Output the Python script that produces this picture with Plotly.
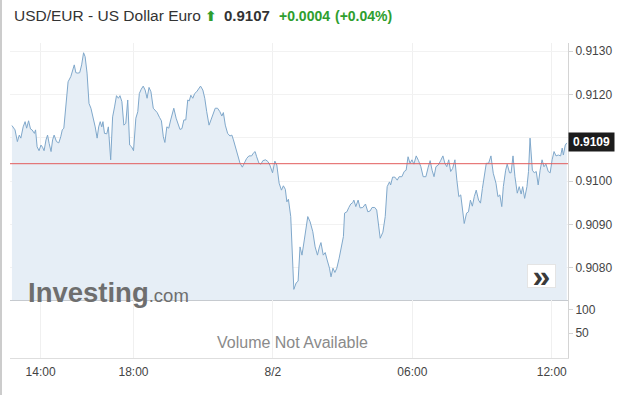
import pandas as pd
import plotly.graph_objects as go
from plotly.subplots import make_subplots

# ---------------- data ----------------
start_time = "2019-08-01 12:46"
minutes_from_start = [
    0, 8, 14, 19, 23, 29, 34, 38, 43, 48,
    52, 58, 61, 65, 70, 75, 79, 83, 88, 92,
    96, 101, 105, 109, 115, 121, 126, 130, 134, 139,
    145, 152, 157, 161, 165, 170, 175, 180, 185, 189,
    194, 199, 204, 210, 215, 220, 224, 228, 232, 235,
    239, 245, 249, 255, 260, 265, 270, 275, 279, 284,
    289, 294, 299, 304, 309, 314, 320, 325, 329, 334,
    339, 344, 349, 354, 359, 365, 370, 375, 381, 386,
    391, 395, 400, 405, 410, 414, 418, 424, 429, 434,
    439, 444, 449, 454, 458, 462, 467, 472, 477, 482,
    487, 493, 498, 503, 509, 514, 520, 525, 531, 537,
    542, 546, 551, 557, 563, 568, 572, 577, 582, 589,
    595, 600, 606, 612, 619, 623, 628, 632, 638, 643,
    648, 655, 661, 666, 673, 679, 684, 690, 696, 701,
    706, 710, 714, 720, 724, 728, 734, 739, 744, 749,
    755, 764, 770, 777, 783, 789, 794, 798, 804, 809,
    814, 820, 824, 829, 834, 839, 845, 851, 856, 859,
    865, 870, 875, 880, 883, 888, 894, 899, 906, 913,
    919, 925, 930, 937, 942, 951, 958, 964, 969, 975,
    978, 983, 989, 995, 1000, 1007, 1013, 1018, 1023, 1028,
    1033, 1038, 1044, 1050, 1056, 1062, 1069, 1075, 1080, 1085,
    1090, 1095, 1101, 1107, 1113, 1118, 1123, 1128, 1133, 1138,
    1144, 1149, 1154, 1159, 1164, 1168, 1174, 1179, 1184, 1189,
    1194, 1199, 1205, 1210, 1215, 1220, 1225, 1231, 1237, 1243,
    1250, 1255, 1260, 1265, 1269, 1275, 1279, 1285, 1289, 1294,
    1299, 1305, 1310, 1315, 1319, 1324, 1330, 1334, 1338, 1344,
    1349, 1354, 1359, 1364, 1369, 1374, 1379, 1385, 1390, 1395,
    1400, 1405, 1411, 1417, 1421, 1424, 1429, 1433,
]
prices = [
    0.91128, 0.91118, 0.91091, 0.91106, 0.91099, 0.91125, 0.91137, 0.91122, 0.91139, 0.91120,
    0.91118, 0.91110, 0.91118, 0.91079, 0.91070, 0.91083, 0.91078, 0.91070, 0.91095, 0.91106,
    0.91087, 0.91068, 0.91095, 0.91106, 0.91091, 0.91088, 0.91102, 0.91118, 0.91122, 0.91171,
    0.91229, 0.91241, 0.91256, 0.91268, 0.91250, 0.91249, 0.91250, 0.91268, 0.91296, 0.91287,
    0.91249, 0.91179, 0.91168, 0.91147, 0.91125, 0.91099, 0.91125, 0.91137, 0.91125, 0.91137,
    0.91110, 0.91109, 0.91125, 0.91049, 0.91148, 0.91171, 0.91197, 0.91191, 0.91197, 0.91183,
    0.91129, 0.91133, 0.91187, 0.91083, 0.91079, 0.91070, 0.91145, 0.91160, 0.91202, 0.91212,
    0.91219, 0.91210, 0.91191, 0.91216, 0.91206, 0.91168, 0.91162, 0.91158, 0.91147, 0.91139,
    0.91102, 0.91089, 0.91125, 0.91122, 0.91141, 0.91152, 0.91168, 0.91145, 0.91133, 0.91119,
    0.91121, 0.91141, 0.91141, 0.91187, 0.91185, 0.91198, 0.91191, 0.91202, 0.91206, 0.91214,
    0.91219, 0.91210, 0.91191, 0.91160, 0.91129, 0.91141, 0.91158, 0.91168, 0.91168, 0.91160,
    0.91150, 0.91158, 0.91129, 0.91110, 0.91104, 0.91106, 0.91095, 0.91079, 0.91064, 0.91041,
    0.91032, 0.91041, 0.91052, 0.91058, 0.91058, 0.91064, 0.91068, 0.91056, 0.91041, 0.91039,
    0.91047, 0.91049, 0.91045, 0.91037, 0.91019, 0.91046, 0.91037, 0.90995, 0.90979, 0.90989,
    0.90981, 0.90952, 0.90958, 0.90918, 0.90841, 0.90750, 0.90765, 0.90769, 0.90848, 0.90829,
    0.90864, 0.90918, 0.90906, 0.90883, 0.90848, 0.90829, 0.90848, 0.90858, 0.90829, 0.90835,
    0.90818, 0.90799, 0.90779, 0.90799, 0.90789, 0.90799, 0.90822, 0.90848, 0.90872, 0.90926,
    0.90929, 0.90939, 0.90947, 0.90950, 0.90956, 0.90941, 0.90956, 0.90938, 0.90939, 0.90947,
    0.90929, 0.90931, 0.90939, 0.90939, 0.90933, 0.90868, 0.90882, 0.90918, 0.90987, 0.90998,
    0.90991, 0.91009, 0.91009, 0.91002, 0.91010, 0.91010, 0.91022, 0.91025, 0.91056, 0.91041,
    0.91049, 0.91039, 0.91058, 0.91047, 0.91033, 0.91010, 0.91010, 0.91032, 0.91047, 0.91025,
    0.91010, 0.91033, 0.91037, 0.91047, 0.91058, 0.91041, 0.91033, 0.91049, 0.91022, 0.91029,
    0.91049, 0.91002, 0.90964, 0.90968, 0.90929, 0.90902, 0.90926, 0.90929, 0.90956, 0.90942,
    0.90964, 0.90979, 0.90956, 0.90949, 0.90983, 0.91010, 0.91041, 0.91041, 0.91058, 0.91018,
    0.90995, 0.90964, 0.90968, 0.90941, 0.90987, 0.91025, 0.91039, 0.91019, 0.91019, 0.91058,
    0.91010, 0.90972, 0.90987, 0.90970, 0.90987, 0.90960, 0.90987, 0.91022, 0.91099, 0.91025,
    0.91019, 0.91022, 0.90991, 0.91025, 0.91049, 0.91033, 0.91039, 0.91022, 0.91019, 0.91049,
    0.91068, 0.91058, 0.91060, 0.91058, 0.91076, 0.91060, 0.91083, 0.91088,
]
prev_close = 0.91040
last_price_label = "0.9109"
x_tick_times = ["2019-08-01 14:00", "2019-08-01 18:00", "2019-08-02 00:00",
                "2019-08-02 06:00", "2019-08-02 12:00"]
x_tick_labels = ["14:00", "18:00", "8/2", "06:00", "12:00"]
price_ticks = [0.9080, 0.9090, 0.9100, 0.9110, 0.9120, 0.9130]
price_tick_labels = ["0.9080", "0.9090", "0.9100", "", "0.9120", "0.9130"]
volume_ticks = [50, 100]
title_text = "USD/EUR - US Dollar Euro"
quote_text = "0.9107"
change_text = "+0.0004"
change_pct_text = "(+0.04%)"

times = pd.Timestamp(start_time) + pd.to_timedelta(minutes_from_start, unit="min")

# ---------------- figure ----------------
W, H = 622, 395
ML, MR, MT, MB = 10, 54, 43, 37
PW, PH = W - ML - MR, H - MT - MB

fig = make_subplots(rows=2, cols=1, shared_xaxes=True, vertical_spacing=0,
                    row_heights=[257, 58])

fig.add_trace(go.Scatter(
    x=times, y=prices, mode="lines",
    line=dict(color="#80a8cb", width=1),
    fill="tozeroy", fillcolor="#e6eef6",
    hoverinfo="skip", showlegend=False), row=1, col=1)
fig.add_trace(go.Scatter(x=[times[0]], y=[None], mode="lines",
                         showlegend=False, hoverinfo="skip"), row=2, col=1)

FONT = "Liberation Sans, Arial, sans-serif"
axis_tick_font = dict(family=FONT, size=12, color="#444")
xrange = ["2019-08-01 12:41", "2019-08-02 12:42"]

fig.update_xaxes(range=xrange, tickvals=x_tick_times, ticktext=x_tick_labels,
                 showgrid=True, gridcolor="#f0f0f0", gridwidth=1,
                 zeroline=False, ticks="", tickfont=axis_tick_font)
fig.update_xaxes(showline=True, linecolor="#c6cacf", linewidth=1, row=1, col=1)
fig.update_xaxes(showline=True, linecolor="#dedede", linewidth=1,
                 ticklabelstandoff=3, row=2, col=1)

fig.update_yaxes(side="right", range=[0.907255, 0.913185],
                 tickvals=price_ticks, ticktext=price_tick_labels,
                 showgrid=True, gridcolor="#f2f2f2", zeroline=False,
                 showline=True, linecolor="#d4d4d4", ticks="outside",
                 ticklen=4, tickcolor="#d4d4d4", tickfont=axis_tick_font,
                 row=1, col=1)
fig.update_yaxes(side="right", range=[-4.3, 121.7], tickvals=volume_ticks,
                 showgrid=False, zeroline=False, showline=True,
                 linecolor="#d4d4d4", ticks="outside", ticklen=4,
                 tickcolor="#d4d4d4", tickfont=axis_tick_font, row=2, col=1)

shapes = [
    dict(type="line", xref="x domain", x0=0, x1=1, yref="y",
         y0=prev_close, y1=prev_close, line=dict(color="#e25c5c", width=1)),
    dict(type="line", xref="paper", x0=(1 - ML) / PW, x1=(1 - ML) / PW,
         yref="paper", y0=-MB / PH, y1=1 + MT / PH,
         line=dict(color="#cccccc", width=2)),
]

def px_x(x):
    return (x - ML) / PW

def px_y(y):
    return (H - MB - y) / PH

annotations = [
    dict(text=title_text, xref="paper", yref="paper", x=px_x(12), y=px_y(15),
         xanchor="left", yanchor="middle", showarrow=False,
         font=dict(family=FONT, size=15.5, color="#333")),
    dict(text="<b>⬆</b>", xref="paper", yref="paper", x=px_x(210.5), y=px_y(16),
         xanchor="center", yanchor="middle", showarrow=False,
         font=dict(family="DejaVu Sans", size=14, color="#2e9e2e")),
    dict(text="<b>" + quote_text + "</b>", xref="paper", yref="paper",
         x=px_x(222), y=px_y(15), xanchor="left", yanchor="middle",
         showarrow=False, font=dict(family=FONT, size=15, color="#333")),
    dict(text="<b>" + change_text + "</b>", xref="paper", yref="paper",
         x=px_x(277), y=px_y(16), xanchor="left", yanchor="middle",
         showarrow=False, font=dict(family=FONT, size=14, color="#2e9e2e")),
    dict(text="<b>" + change_pct_text + "</b>", xref="paper", yref="paper",
         x=px_x(333), y=px_y(16), xanchor="left", yanchor="middle",
         showarrow=False, font=dict(family=FONT, size=14, color="#2e9e2e")),
    dict(text="<b>" + last_price_label + "</b>", xref="paper", yref="y",
         x=1, y=float(last_price_label), xanchor="left", yanchor="middle",
         showarrow=False, bgcolor="#1c1c1c", width=42, height=15, borderpad=1.5,
         font=dict(family=FONT, size=12, color="#ffffff")),
    dict(text="<b>»</b>", xref="paper", yref="paper", x=px_x(541.7), y=px_y(275.5),
         xanchor="center", yanchor="middle", showarrow=False,
         bgcolor="#ffffff", bordercolor="#e4e4e4", borderwidth=1,
         width=27, height=22, borderpad=0,
         font=dict(family=FONT, size=32, color="#3a3a3a")),
    dict(text="<b>Investing</b><span style='font-size:18.5px;font-weight:normal'>.com</span>",
         xref="paper", yref="paper", x=px_x(26), y=px_y(292),
         xanchor="left", yanchor="middle", showarrow=False,
         font=dict(family=FONT, size=27.5, color="#6e6e6e")),
    dict(text="Volume Not Available", xref="paper", yref="paper",
         x=px_x(292), y=px_y(342), xanchor="center", yanchor="middle",
         showarrow=False, font=dict(family=FONT, size=16, color="#8a8a8a")),
]

fig.update_layout(width=W, height=H, margin=dict(l=ML, r=MR, t=MT, b=MB),
                  paper_bgcolor="white", plot_bgcolor="white",
                  shapes=shapes, annotations=annotations, showlegend=False,
                  font=dict(family=FONT))

fig.write_html("out.html", config={"displayModeBar": False})
